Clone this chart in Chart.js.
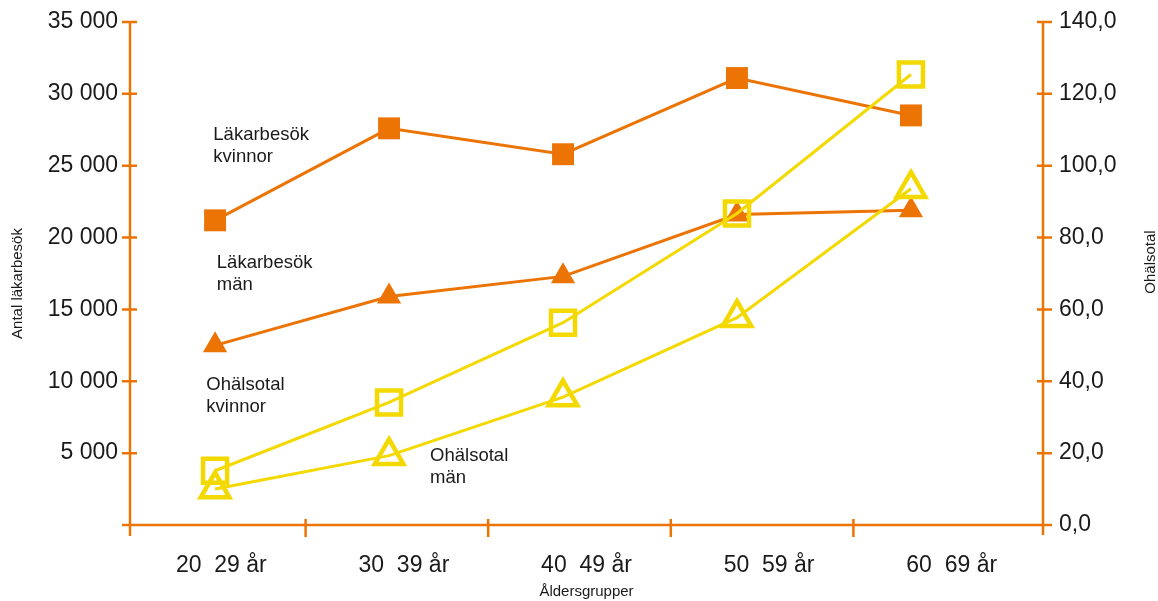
<!DOCTYPE html>
<html>
<head>
<meta charset="utf-8">
<script src="https://cdn.jsdelivr.net/npm/chart.js@4/dist/chart.umd.min.js"></script>
<style>
  html, body { margin: 0; padding: 0; background: #fff; }
  #wrap { width: 1158px; height: 601px; position: relative; }
</style>
</head>
<body>
<div id="wrap"><canvas id="c"></canvas></div>
<script>
// ---- data ----
const categories = ['20  29 år', '30  39 år', '40  49 år', '50  59 år', '60  69 år'];
const lakarbesokKvinnor = [21200, 27600, 25800, 31100, 28500];
const lakarbesokMan = [12500, 15900, 17300, 21600, 21900];
const ohalsotalKvinnor = [15.1, 34.1, 56.3, 86.7, 125.4];
const ohalsotalMan = [10.0, 19.3, 35.6, 57.7, 93.6];
const leftTicks = [0, 5000, 10000, 15000, 20000, 25000, 30000, 35000];
const rightTicks = [0, 20, 40, 60, 80, 100, 120, 140];
const seriesNames = ['Läkarbesök kvinnor', 'Läkarbesök män', 'Ohälsotal kvinnor', 'Ohälsotal män'];
const yTitleLeft = 'Antal läkarbesök';
const yTitleRight = 'Ohälsotal';
const xTitle = 'Åldersgrupper';

// in-chart labels: [lines, x (category index units), y (left axis units)]
const notes = [
  [['Läkarbesök', 'kvinnor'], -0.01, 27130],
  [['Läkarbesök', 'män'], 0.01, 18250],
  [['Ohälsotal', 'kvinnor'], -0.05, 9740],
  [['Ohälsotal', 'män'], 1.236, 4800]
];

const ORANGE = '#EC7404';
const YELLOW = '#F4D900';
const TEXT = '#1a1a1a';
const FONT = '"Liberation Sans", Arial, Helvetica, sans-serif';

const pts = arr => arr.map((v, i) => ({ x: i, y: v }));
const fmtThousands = v => String(v).replace(/\B(?=(\d{3})+(?!\d))/g, ' ');

const axesPlugin = {
  id: 'axesPlugin',
  beforeDatasetsDraw(chart) {
    const ctx = chart.ctx;
    const a = chart.chartArea;
    const yL = chart.scales.y, yR = chart.scales.y2, xc = chart.scales.xc;
    ctx.save();
    ctx.strokeStyle = ORANGE;
    ctx.lineWidth = 2.5;
    ctx.lineCap = 'butt';
    ctx.beginPath();
    ctx.moveTo(a.left, a.top); ctx.lineTo(a.left, a.bottom + 11);
    ctx.moveTo(a.right, a.top); ctx.lineTo(a.right, a.bottom + 10);
    ctx.moveTo(a.left - 8, a.bottom); ctx.lineTo(a.right, a.bottom);
    leftTicks.forEach(v => {
      if (v === 0) return;
      const y = yL.getPixelForValue(v);
      ctx.moveTo(a.left - 8, y); ctx.lineTo(a.left + 7, y);
    });
    rightTicks.forEach(v => {
      const y = yR.getPixelForValue(v);
      ctx.moveTo(a.right - 6, y); ctx.lineTo(a.right + 9, y);
    });
    for (let i = 0; i < categories.length - 1; i++) {
      const x = (xc.getPixelForTick(i) + xc.getPixelForTick(i + 1)) / 2 - 7;
      ctx.moveTo(x, a.bottom - 6); ctx.lineTo(x, a.bottom + 12);
    }
    ctx.stroke();
    ctx.restore();
  },
  afterDraw(chart) {
    const ctx = chart.ctx;
    const a = chart.chartArea;
    const x = chart.scales.x, y = chart.scales.y;
    ctx.save();
    ctx.fillStyle = TEXT;
    ctx.font = '18.5px ' + FONT;
    ctx.textAlign = 'left';
    ctx.textBaseline = 'middle';
    notes.forEach(([lines, nx, ny]) => {
      const px = x.getPixelForValue(nx);
      const py = y.getPixelForValue(ny);
      lines.forEach((t, k) => ctx.fillText(t, px, py + k * 22));
    });
    ctx.font = '15px ' + FONT;
    ctx.textAlign = 'center';
    ctx.fillText(xTitle, (a.left + a.right) / 2, 592);
    ctx.translate(18, (a.top + a.bottom) / 2 + 10);
    ctx.rotate(-Math.PI / 2);
    ctx.fillText(yTitleLeft, 0, 0);
    ctx.restore();
    ctx.save();
    ctx.fillStyle = TEXT;
    ctx.font = '15px ' + FONT;
    ctx.textAlign = 'center';
    ctx.textBaseline = 'middle';
    ctx.translate(1151, 262);
    ctx.rotate(-Math.PI / 2);
    ctx.fillText(yTitleRight, 0, 0);
    ctx.restore();
  }
};

new Chart(document.getElementById('c'), {
  type: 'line',
  data: {
    datasets: [
      {
        label: seriesNames[0], data: pts(lakarbesokKvinnor), yAxisID: 'y', xAxisID: 'x',
        borderColor: ORANGE, backgroundColor: ORANGE, borderWidth: 3,
        pointStyle: 'rect', pointRadius: 15.5, pointBorderWidth: 0, pointBackgroundColor: ORANGE,
        order: 2
      },
      {
        label: seriesNames[1], data: pts(lakarbesokMan), yAxisID: 'y', xAxisID: 'x',
        borderColor: ORANGE, backgroundColor: ORANGE, borderWidth: 3,
        pointStyle: 'triangle', pointRadius: 14, pointBorderWidth: 0, pointBackgroundColor: ORANGE,
        order: 2
      },
      {
        label: seriesNames[2], data: pts(ohalsotalKvinnor), yAxisID: 'y2', xAxisID: 'x',
        borderColor: YELLOW, backgroundColor: 'rgba(0,0,0,0)', borderWidth: 3,
        pointStyle: 'rect', pointRadius: 17, pointBorderWidth: 4.5,
        pointBorderColor: YELLOW, pointBackgroundColor: 'rgba(0,0,0,0)',
        order: 1
      },
      {
        label: seriesNames[3], data: pts(ohalsotalMan), yAxisID: 'y2', xAxisID: 'x',
        borderColor: YELLOW, backgroundColor: 'rgba(0,0,0,0)', borderWidth: 3,
        pointStyle: 'triangle', pointRadius: 16.5, pointBorderWidth: 4.5,
        pointBorderColor: YELLOW, pointBackgroundColor: 'rgba(0,0,0,0)',
        order: 1
      }
    ]
  },
  options: {
    responsive: true,
    maintainAspectRatio: false,
    animation: false,
    clip: false,
    layout: { padding: { top: 22, left: 0, right: 0, bottom: 0 } },
    plugins: { legend: { display: false }, tooltip: { enabled: false } },
    elements: { line: { tension: 0 } },
    scales: {
      x: {
        type: 'linear', display: false, position: 'bottom',
        min: -0.489, max: 4.759
      },
      xc: {
        type: 'category', labels: categories, position: 'bottom', offset: true,
        grid: { display: false, drawTicks: false }, border: { display: false },
        ticks: { color: TEXT, font: { family: FONT, size: 23 }, padding: 27, maxRotation: 0, autoSkip: false },
        afterFit(s) { s.height = 76; s.paddingLeft = 0; s.paddingRight = 0; }
      },
      y: {
        type: 'linear', position: 'left', min: 0, max: 35000,
        grid: { display: false, drawTicks: false }, border: { display: false },
        afterBuildTicks(s) { s.ticks = leftTicks.map(v => ({ value: v })); },
        ticks: {
          color: TEXT, font: { family: FONT, size: 23 }, padding: 12,
          callback: v => v === 0 ? '' : fmtThousands(v)
        },
        afterFit(s) { s.width = 130; s.paddingTop = 0; s.paddingBottom = 0; }
      },
      y2: {
        type: 'linear', position: 'right', min: 0, max: 140,
        grid: { display: false, drawTicks: false }, border: { display: false },
        afterBuildTicks(s) { s.ticks = rightTicks.map(v => ({ value: v })); },
        ticks: {
          color: TEXT, font: { family: FONT, size: 23 }, padding: 16,
          callback: v => v.toFixed(1).replace('.', ',')
        },
        afterFit(s) { s.width = 115; s.paddingTop = 0; s.paddingBottom = 0; }
      }
    }
  },
  plugins: [axesPlugin]
});
</script>
</body>
</html>
